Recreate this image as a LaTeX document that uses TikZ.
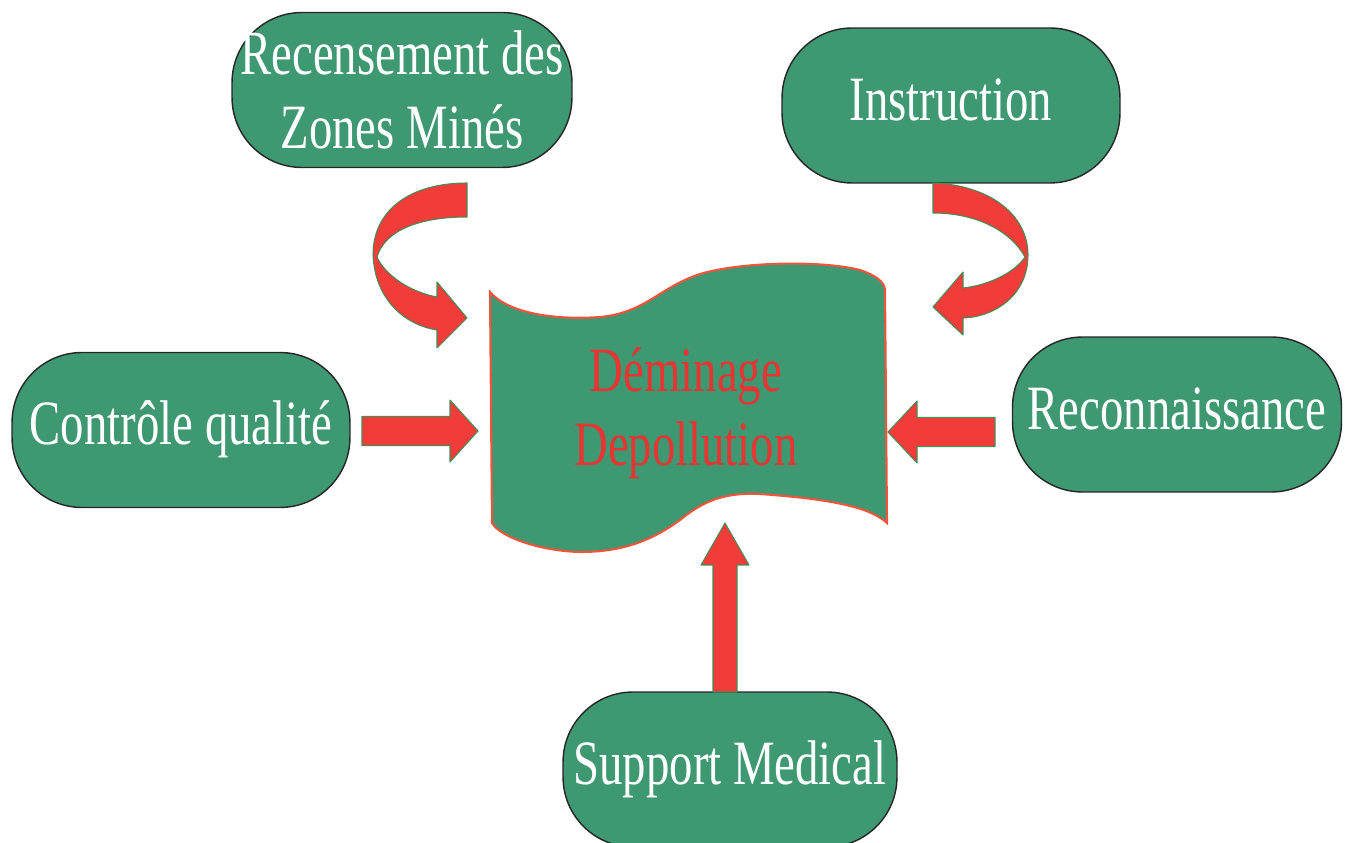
\documentclass[tikz,border=0pt]{standalone}
\usepackage{fontspec}
\setmainfont{Liberation Serif}
\usepackage{graphicx}
\usetikzlibrary{positioning}
\definecolor{vertboite}{RGB}{62,152,114}
\definecolor{rougefleche}{RGB}{242,60,58}
\definecolor{bordfleche}{RGB}{70,140,85}
\definecolor{bordbanniere}{RGB}{240,85,60}
\definecolor{texterouge}{RGB}{232,52,50}
\tikzset{
    x=0.02cm, y=0.02cm, % one unit is one pixel of the drawing
    boite/.style={draw=black!85, line width=0.8pt, fill=vertboite, rounded corners=1.4cm, minimum height=3.1cm, inner sep=0pt, text=white}, % the pill shaped boxes
    fleche/.style={fill=rougefleche, draw=bordfleche, line width=0.6pt, line join=round}, % the big red arrows
    banniere/.style={fill=vertboite, draw=bordbanniere, line width=1.2pt}, % the flag in the middle
}
% tall narrow text, as in the drawing
\newcommand{\gros}[1]{\scalebox{1}[1.35]{\fontsize{26.6}{31}\selectfont\begin{tabular}{@{}c@{}}#1\end{tabular}}}
% straight block arrow: start, angle, length, half shaft, half head, head length
\newcommand{\blockarrow}[6]{%
    \filldraw[fleche, shift={(#1)}, rotate=#2] (0,-#4) -- ({#3-#6},-#4) -- ({#3-#6},-#5) -- (#3,0)
        -- ({#3-#6},#5) -- ({#3-#6},#4) -- (0,#4) -- cycle;}

\begin{document}
\begin{tikzpicture}
    \useasboundingbox (0,0) rectangle (1345,842);
    \clip (0,0) rectangle (1345,842);

    % the flag
    \filldraw[banniere] (490,550) .. controls (510,527) and (560,522) .. (600,525)
        .. controls (645,529) and (660,555) .. (700,568)
        .. controls (740,580) and (820,582) .. (860,572)
        .. controls (875,567) and (885,560) .. (885,552)
        -- (887,319)
        .. controls (870,335) and (830,343) .. (760,348)
        .. controls (720,350) and (700,338) .. (680,322)
        .. controls (650,300) and (620,290) .. (580,290)
        .. controls (540,291) and (500,305) .. (492,319) -- cycle;
    \node[text=texterouge, inner sep=0pt] (demin) at (686,428) {\gros{Déminage\\Depollution}};

    \node[boite, minimum width=6.8cm] (recens) at (402,752) {\raisebox{-0.14cm}[\height][\depth]{\gros{Recensement des\\Zones Minés}}};
    \node[boite, minimum width=6.76cm] (instr) at (951,736.5) {\gros{Instruction}};
    \node[boite, minimum width=6.76cm] (ctrl) at (181,412) {\gros{Contrôle qualité}};
    \node[boite, minimum width=6.58cm] (reco) at (1177,427.5) {\gros{Reconnaissance}};
    \node[boite, minimum width=6.68cm] (supp) at (730,72.5) {\gros{Support Medical}};

    % straight arrows
    \coordinate (depart-g) at (362,411);
    \coordinate (depart-d) at (995,410);
    \coordinate (depart-b) at (725,150);
    \blockarrow{depart-g}{0}{116}{14.5}{31}{28}
    \blockarrow{depart-d}{180}{107}{14.5}{31}{29}
    \blockarrow{depart-b}{90}{169}{12}{24}{42}

    % twisted arrows at the top
    \filldraw[fleche] (467,659) .. controls (410,659) and (373,632) .. (373,587)
        .. controls (375,542) and (405,517) .. (437,512) -- (437,494) -- (467,524) -- (437,560) -- (437,545)
        .. controls (410,550) and (385,567) .. (377,585)
        .. controls (385,612) and (420,625) .. (467,625) -- cycle;
    \filldraw[fleche] (933,659) .. controls (990,657) and (1028,627) .. (1028,587)
        .. controls (1028,547) and (995,525) .. (963,524) -- (963,507) -- (933,535) -- (963,570) -- (963,554)
        .. controls (990,557) and (1015,570) .. (1025,585)
        .. controls (1010,612) and (975,629) .. (933,629) -- cycle;
\end{tikzpicture}
\end{document}
